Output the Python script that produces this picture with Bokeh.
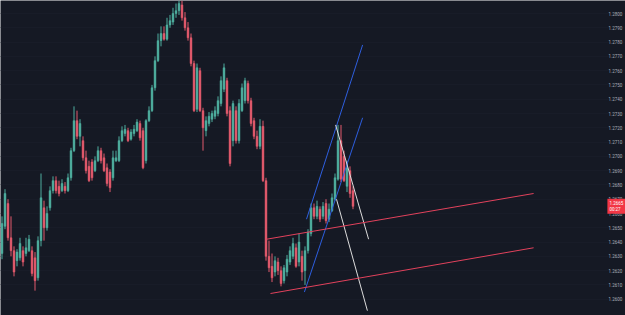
from bokeh.plotting import figure
from bokeh.models import Range1d, FixedTicker, NumeralTickFormatter, Label, LinearAxis
from bokeh.embed import file_html
from bokeh.resources import INLINE

open_ = [1.2632,1.2651,1.2667,1.2643,1.2634,1.2627,1.2629,1.2634,1.2632,1.2634,
 1.2634,1.2629,1.2615,1.2641,1.2664,1.2650,1.2664,1.2676,1.2683,1.2679,
 1.2676,1.2679,1.2676,1.2685,1.2704,1.2725,1.2714,1.2711,1.2699,1.2693,
 1.2696,1.2690,1.2697,1.2704,1.2699,1.2692,1.2689,1.2685,1.2697,1.2697,
 1.2711,1.2716,1.2718,1.2712,1.2716,1.2718,1.2723,1.2718,1.2697,1.2725,
 1.2732,1.2748,1.2767,1.2781,1.2786,1.2782,1.2792,1.2794,1.2800,1.2802,
 1.2806,1.2797,1.2790,1.2783,1.2765,1.2733,1.2760,1.2732,1.2718,1.2723,
 1.2726,1.2728,1.2730,1.2737,1.2747,1.2753,1.2732,1.2711,1.2732,1.2711,
 1.2732,1.2739,1.2751,1.2739,1.2725,1.2714,1.2707,1.2721,1.2683,1.2630,
 1.2623,1.2619,1.2626,1.2620,1.2613,1.2619,1.2626,1.2630,1.2636,1.2626,
 1.2630,1.2620,1.2634,1.2646,1.2664,1.2658,1.2663,1.2658,1.2667,1.2656,
 1.2662,1.2670,1.2684,1.2711,1.2700,1.2679,1.2690,1.2676]
high = [1.2658,1.2677,1.2670,1.2658,1.2637,1.2635,1.2643,1.2637,1.2643,1.2645,
 1.2637,1.2633,1.2644,1.2688,1.2669,1.2665,1.2679,1.2686,1.2686,1.2683,
 1.2684,1.2682,1.2688,1.2706,1.2735,1.2732,1.2726,1.2714,1.2704,1.2697,
 1.2698,1.2700,1.2707,1.2706,1.2702,1.2695,1.2691,1.2704,1.2704,1.2714,
 1.2721,1.2722,1.2720,1.2719,1.2722,1.2726,1.2725,1.2720,1.2726,1.2735,
 1.2750,1.2770,1.2786,1.2791,1.2791,1.2797,1.2799,1.2804,1.2807,1.2809,
 1.2809,1.2801,1.2794,1.2786,1.2767,1.2765,1.2762,1.2734,1.2728,1.2731,
 1.2732,1.2735,1.2742,1.2756,1.2765,1.2755,1.2735,1.2739,1.2735,1.2740,
 1.2751,1.2755,1.2753,1.2741,1.2727,1.2718,1.2726,1.2725,1.2685,1.2641,
 1.2632,1.2630,1.2629,1.2623,1.2624,1.2631,1.2637,1.2643,1.2639,1.2646,
 1.2634,1.2637,1.2649,1.2667,1.2667,1.2669,1.2665,1.2668,1.2670,1.2667,
 1.2674,1.2688,1.2722,1.2722,1.2704,1.2697,1.2693,1.2679]
low = [1.2628,1.2649,1.2641,1.2630,1.2616,1.2623,1.2627,1.2623,1.2630,1.2633,
 1.2616,1.2606,1.2613,1.2637,1.2641,1.2648,1.2662,1.2674,1.2674,1.2672,
 1.2675,1.2674,1.2675,1.2683,1.2703,1.2712,1.2707,1.2697,1.2688,1.2682,
 1.2683,1.2689,1.2696,1.2695,1.2689,1.2679,1.2675,1.2683,1.2696,1.2696,
 1.2710,1.2714,1.2710,1.2711,1.2714,1.2717,1.2711,1.2691,1.2695,1.2724,
 1.2731,1.2746,1.2766,1.2777,1.2781,1.2781,1.2790,1.2792,1.2797,1.2799,
 1.2795,1.2788,1.2781,1.2763,1.2731,1.2731,1.2731,1.2704,1.2714,1.2721,
 1.2724,1.2726,1.2728,1.2735,1.2745,1.2728,1.2693,1.2707,1.2709,1.2709,
 1.2731,1.2737,1.2737,1.2721,1.2712,1.2705,1.2705,1.2682,1.2627,1.2619,
 1.2612,1.2616,1.2617,1.2609,1.2611,1.2616,1.2624,1.2628,1.2622,1.2623,
 1.2613,1.2610,1.2632,1.2644,1.2656,1.2656,1.2654,1.2656,1.2653,1.2654,
 1.2661,1.2669,1.2683,1.2682,1.2682,1.2675,1.2671,1.2663]
close = [1.2653,1.2674,1.2643,1.2634,1.2619,1.2633,1.2639,1.2626,1.2636,1.2642,
 1.2618,1.2613,1.2641,1.2671,1.2650,1.2660,1.2676,1.2683,1.2676,1.2674,
 1.2681,1.2676,1.2685,1.2704,1.2725,1.2714,1.2723,1.2699,1.2690,1.2683,
 1.2685,1.2697,1.2704,1.2697,1.2690,1.2681,1.2678,1.2699,1.2699,1.2711,
 1.2718,1.2719,1.2711,1.2717,1.2719,1.2724,1.2713,1.2692,1.2725,1.2732,
 1.2748,1.2767,1.2781,1.2786,1.2782,1.2792,1.2795,1.2800,1.2802,1.2807,
 1.2797,1.2790,1.2783,1.2765,1.2732,1.2762,1.2732,1.2720,1.2725,1.2728,
 1.2730,1.2732,1.2739,1.2753,1.2762,1.2730,1.2695,1.2737,1.2711,1.2737,
 1.2748,1.2753,1.2739,1.2723,1.2714,1.2707,1.2721,1.2683,1.2630,1.2622,
 1.2615,1.2627,1.2620,1.2611,1.2622,1.2628,1.2634,1.2639,1.2623,1.2640,
 1.2619,1.2634,1.2647,1.2664,1.2658,1.2665,1.2656,1.2665,1.2655,1.2663,
 1.2671,1.2685,1.2711,1.2684,1.2683,1.2692,1.2674,1.2665]

price_ticks = [1.2600,1.2610,1.2620,1.2630,1.2640,1.2650,1.2660,1.2670,1.2680,1.2690,
 1.2700,1.2710,1.2720,1.2730,1.2740,1.2750,1.2760,1.2770,1.2780,1.2790,1.2800]

last_price = 1.2665
last_price_text = "1.2665"
countdown_text = "00:27"

# drawn trendlines (bar index, price)
blue_a_x = [101.5, 120.2]; blue_a_y = [1.2656, 1.2778]
blue_b_x = [100.8, 120.2]; blue_b_y = [1.2605, 1.2727]
white_a_x = [111.2, 122.2]; white_a_y = [1.2722, 1.2642]
white_b_x = [111.5, 121.8]; white_b_y = [1.2670, 1.2592]
red_a_x = [88.2, 177.2]; red_a_y = [1.2642, 1.2674]
red_b_x = [89.5, 177.2]; red_b_y = [1.2604, 1.2636]

BG = "#151924"
UP = "#4fae9f"
DOWN = "#e25a6c"

idx = list(range(len(close)))
cols = [UP if c >= o else DOWN for o, c in zip(open_, close)]
body_top = [max(o, c) for o, c in zip(open_, close)]
body_bot = [min(o, c) for o, c in zip(open_, close)]

p = figure(width=625, height=315, output_backend="svg", toolbar_location=None,
           x_range=Range1d(-0.5, 207.83), y_range=Range1d(1.25886, 1.28091),
           x_axis_location=None, y_axis_location=None,
           min_border_left=0, min_border_top=0, min_border_bottom=0, min_border_right=0,
           background_fill_color=BG, border_fill_color=BG, outline_line_color=None)

p.xgrid.grid_line_color = None
p.ygrid.grid_line_color = "#181c28"

ax = LinearAxis(ticker=FixedTicker(ticks=price_ticks),
                formatter=NumeralTickFormatter(format="0.0000"),
                axis_line_color=None, major_tick_line_color=None, minor_tick_line_color=None,
                major_tick_out=0, major_tick_in=0,
                major_label_text_color="#a9adb8", major_label_text_font="Roboto",
                major_label_text_font_size="4.5px", major_label_standoff=-17)
p.add_layout(ax, "right")
p.ygrid.ticker = FixedTicker(ticks=price_ticks)

p.segment(x0=idx, y0=low, x1=idx, y1=high, color=cols, line_width=1)
p.vbar(x=idx, top=body_top, bottom=body_bot, width=0.62, fill_color=cols, line_color=cols, line_width=0.5)

p.line(blue_a_x, blue_a_y, line_color="#2e5fe0", line_width=1)
p.line(blue_b_x, blue_b_y, line_color="#2e5fe0", line_width=1)
p.line(white_a_x, white_a_y, line_color="#dcdcdc", line_width=1)
p.line(white_b_x, white_b_y, line_color="#dcdcdc", line_width=1)
p.line(red_a_x, red_a_y, line_color="#e2425c", line_width=1)
p.line(red_b_x, red_b_y, line_color="#e2425c", line_width=1)

lab = Label(x=201.8, y=last_price, x_units="data", y_units="data",
            text=last_price_text + "\n" + countdown_text,
            text_align="left", text_baseline="middle",
            text_color="white", text_font="Roboto", text_font_size="4.5px",
            background_fill_color="#f23645", background_fill_alpha=1.0, padding=2)
p.add_layout(lab)

open("out.html", "w").write(file_html(p, INLINE))
